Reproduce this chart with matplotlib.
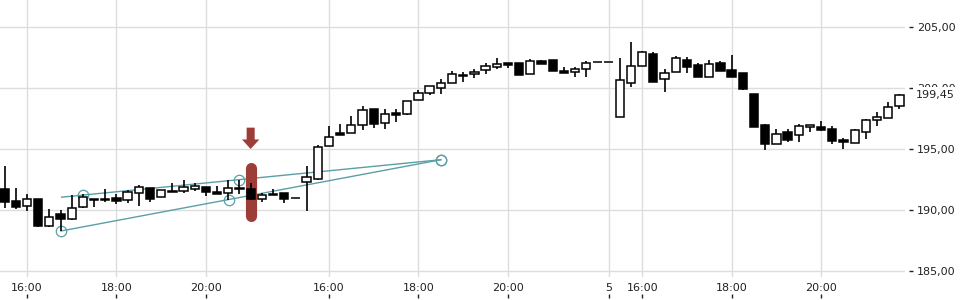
import matplotlib
matplotlib.use("Agg")
import matplotlib.pyplot as plt
import numpy as np

# 15-minute candles
opens = [191.70, 190.74, 190.33, 190.90, 188.66, 189.64, 189.24, 190.22, 190.90, 190.90,
         190.98, 190.82, 191.39, 191.78, 191.07, 191.58, 191.53, 191.70, 191.86, 191.48,
         191.37, 191.82, 191.70, 190.88, 191.31, 191.39, 190.96, 192.27, 192.52, 195.25,
         196.28, 196.29, 196.94, 198.25, 197.10, 197.92, 197.90, 198.99, 199.56, 200.03,
         200.38, 201.07, 201.12, 201.45, 201.70, 202.05, 202.02, 201.12, 202.21, 202.30,
         201.39, 201.29, 201.53, 202.10, 202.10, 197.59, 200.38, 201.78, 202.79, 200.71,
         201.28, 202.27, 201.86, 200.88, 202.05, 201.45, 201.23, 199.51, 196.97, 195.39,
         196.37, 196.12, 196.78, 196.80, 196.64, 195.74, 195.47, 196.37, 197.35, 197.52,
         198.50]
highs = [193.60, 191.78, 191.31, 190.92, 190.08, 190.00, 191.23, 191.30, 190.92, 191.72,
         191.31, 191.64, 192.05, 191.80, 191.61, 192.24, 192.43, 192.19, 191.88, 191.97,
         192.43, 192.48, 192.19, 191.42, 191.70, 191.40, 190.96, 193.61, 195.33, 196.89,
         197.05, 197.70, 198.52, 198.30, 198.28, 198.25, 198.91, 199.84, 200.20, 200.74,
         201.39, 201.34, 201.56, 202.02, 202.49, 202.06, 202.03, 202.38, 202.32, 202.31,
         201.72, 201.75, 202.21, 202.10, 202.10, 202.43, 203.77, 203.06, 202.93, 201.56,
         202.60, 202.52, 202.02, 202.27, 202.21, 202.70, 201.24, 199.52, 197.02, 196.64,
         196.64, 197.05, 196.94, 197.30, 196.91, 195.93, 196.64, 197.48, 198.03, 198.85,
         199.48]
lows = [190.20, 190.11, 189.89, 188.63, 188.62, 188.30, 189.20, 190.20, 190.27, 190.63,
        190.47, 190.60, 190.33, 190.68, 191.07, 191.48, 191.42, 191.58, 191.12, 191.29,
        190.85, 191.31, 190.85, 190.68, 191.21, 190.60, 190.96, 189.94, 192.50, 195.25,
        196.18, 196.29, 196.53, 196.75, 196.67, 197.24, 197.81, 198.99, 199.45, 199.53,
        200.38, 200.52, 200.85, 201.17, 201.58, 201.61, 201.09, 201.12, 201.99, 201.42,
        201.26, 200.93, 200.93, 202.10, 202.10, 197.59, 200.11, 201.78, 200.52, 199.65,
        201.28, 201.20, 200.88, 200.88, 201.42, 200.93, 199.86, 196.83, 194.94, 195.39,
        195.60, 195.60, 196.37, 196.45, 195.43, 195.02, 195.47, 195.79, 196.91, 197.52,
        198.25]
closes = [190.63, 190.27, 190.87, 188.71, 189.40, 189.24, 190.14, 191.04, 190.78, 190.80,
          190.76, 191.48, 191.86, 190.88, 191.61, 191.48, 191.86, 191.94, 191.45, 191.29,
          191.78, 191.72, 190.88, 191.21, 191.21, 190.93, 190.96, 192.73, 195.14, 195.96,
          196.18, 196.94, 198.17, 197.08, 197.84, 197.81, 198.91, 199.59, 200.14, 200.38,
          201.15, 200.96, 201.28, 201.78, 201.94, 201.91, 201.09, 202.18, 201.99, 201.42,
          201.26, 201.58, 202.02, 202.10, 202.10, 200.66, 201.78, 202.93, 200.52, 201.20,
          202.43, 201.70, 200.88, 201.94, 201.42, 200.93, 199.92, 196.83, 195.43, 196.20,
          195.76, 196.86, 196.94, 196.58, 195.63, 195.60, 196.56, 197.40, 197.62, 198.42,
          199.45]

tick_pos = [2, 10, 18, 29, 37, 45, 54, 57, 65, 73]
tick_labels = ["16:00", "18:00", "20:00", "16:00", "18:00", "20:00", "5", "16:00", "18:00", "20:00"]
y_ticks = [185, 190, 195, 200, 205]
last_price = 199.45

# drawing tool: two trend lines with anchor points
upper_line_x = [5.1, 39.0]
upper_line_y = [191.05, 194.12]
upper_pts_x = [7.0, 21.0, 39.0]
upper_pts_y = [191.23, 192.49, 194.12]
lower_line_x = [5.04, 39.0]
lower_line_y = [188.28, 194.12]
lower_pts_x = [5.04, 20.06, 39.0]
lower_pts_y = [188.28, 190.86, 194.12]
marker_idx = 22

x = np.arange(len(opens))
o = np.array(opens)
c = np.array(closes)
up = c >= o

fig = plt.figure(figsize=(9.6, 3.0), dpi=100)
ax = fig.add_axes([0, 23 / 300, 905 / 960, 277 / 300])

teal = "#5b9fa6"
red = "#9c3d38"

ax.plot(upper_line_x, upper_line_y, color=teal, lw=1.0, zorder=2)
ax.plot(lower_line_x, lower_line_y, color=teal, lw=1.0, zorder=2)
ax.plot(upper_pts_x + lower_pts_x, upper_pts_y + lower_pts_y, "o", ms=7.5,
        mfc="none", mec=teal, mew=0.9, zorder=2)

# marker bar and arrow
ax.plot([marker_idx, marker_idx], [193.48, 189.48], color=red, lw=8,
        solid_capstyle="round", zorder=3)
ax.arrow(marker_idx, 196.75, 0, -1.75, width=0.72, head_width=1.55,
         head_length=0.78, length_includes_head=True, color=red, lw=0, zorder=3)

# candles
ax.vlines(x, lows, highs, color="black", lw=1.2, zorder=4)
bottoms = np.minimum(o, c)
heights = np.abs(c - o)
ax.bar(x, heights, bottom=bottoms, width=0.74,
       color=np.where(up, "white", "black"), edgecolor="black", linewidth=1.1, zorder=5)

ax.set_xlim(-0.41, 80.5)
ax.set_ylim(184.51, 207.21)
for s in ax.spines.values():
    s.set_visible(False)

ax.set_xticks(tick_pos)
ax.set_xticklabels(tick_labels)
ax.set_yticks(y_ticks)
ax.set_yticklabels([])
ax.tick_params(axis="x", length=0, pad=4, labelsize=8, labelcolor="#222222")
ax.tick_params(axis="y", length=0)
ax.grid(True, color="#dddddd", lw=1, zorder=0)
ax.set_axisbelow(True)

# small tick marks below the time labels
secx = ax.secondary_xaxis(-17 / 277)
secx.set_xticks(tick_pos)
secx.set_xticklabels([])
secx.spines["bottom"].set_visible(False)
secx.tick_params(length=3, width=1, color="#222222")

secy = ax.secondary_yaxis(1 + 4 / 905)
secy.set_yticks(y_ticks)
secy.set_yticklabels([f"{v:.2f}".replace(".", ",") for v in y_ticks])
secy.spines["right"].set_visible(False)
secy.tick_params(length=3, width=1, pad=2.5, labelsize=8, color="#222222", labelcolor="#222222")

# last-price label drawn over the 200,00 label, as in the reference
ax.text(1 + 11 / 905, last_price, f"{last_price:.2f}".replace(".", ","),
        transform=ax.get_yaxis_transform(), fontsize=8, color="#222222",
        va="center", ha="left", zorder=10, clip_on=False,
        bbox=dict(facecolor="white", edgecolor="none", pad=2.2))

fig.savefig("out.png", dpi=100)
